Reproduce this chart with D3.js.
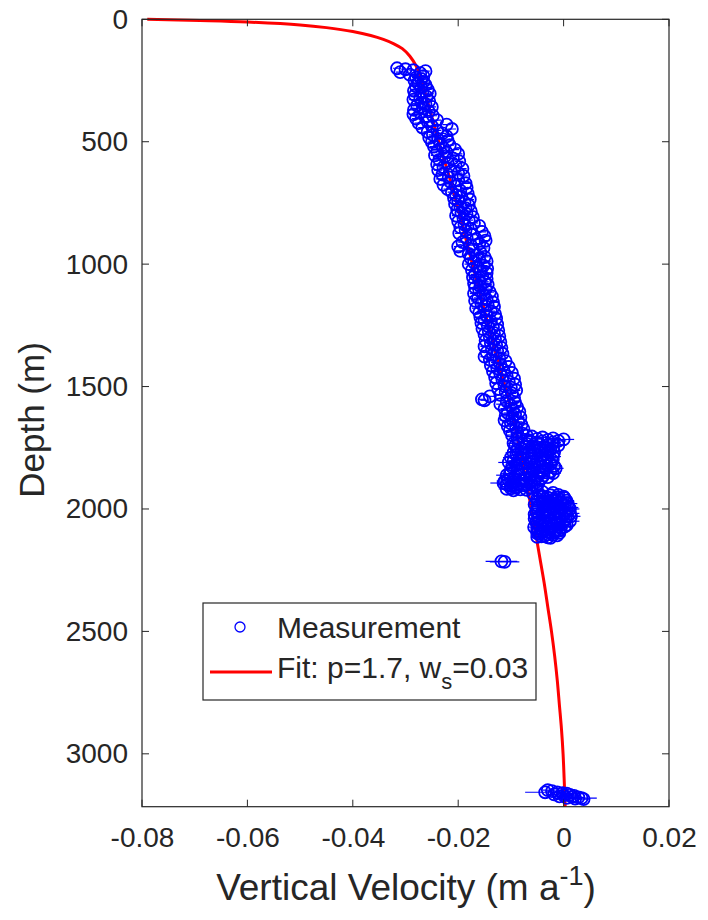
<!DOCTYPE html>
<html><head><meta charset="utf-8">
<script src="https://cdn.jsdelivr.net/npm/d3@7"></script>
<style>
body{margin:0;background:#fff}
text{font-family:"Liberation Sans",Arial,Helvetica,sans-serif;fill:#262626}
</style>
</head><body>
<svg id="chart" width="708" height="920"></svg>
<script>
// ---- axis ticks ----
const xTicks = [-0.08, -0.06, -0.04, -0.02, 0, 0.02];
const xTickLabels = ["-0.08", "-0.06", "-0.04", "-0.02", "0", "0.02"];
const yTicks = [0, 500, 1000, 1500, 2000, 2500, 3000];
const xLabelMain = "Vertical Velocity (m a";
const yLabel = "Depth (m)";
const legendLabels = ["Measurement", "Fit: p=1.7, w", "s", "=0.03"];

// ---- fit curve (depth m, velocity m/a) ----
const fitDepth = [0, 5, 11, 23, 34, 50, 66, 82, 100, 120, 150, 190, 220, 300, 400, 500, 657, 800, 1000, 1200, 1400, 1608, 1800, 2000, 2100, 2200, 2300, 2400, 2500, 2600, 2700, 2800, 2900, 3000, 3100, 3216];
const fitVel   = [-0.0790, -0.0690, -0.0600, -0.0500, -0.0450, -0.0400, -0.0366, -0.0342, -0.0322, -0.0306, -0.0292, -0.0280, -0.0274, -0.0263, -0.0250, -0.0237, -0.0215, -0.0197, -0.0173, -0.0149, -0.0124, -0.0098, -0.0079, -0.0061, -0.0053, -0.0045, -0.0037, -0.0030, -0.0023, -0.0017, -0.0012, -0.0008, -0.0004, -0.0001, 0.0001, 0.0003];

// ---- measurements, upper section [depth, velocity] (small error) ----
const measUpper = [
[200,-0.0316],[204,-0.0300],[208,-0.0285],[212,-0.0262],[216,-0.0310],[220,-0.0272],[226,-0.0292],[232,-0.0266],[238,-0.0280],[244,-0.0270],
[250,-0.0283],[256,-0.0266],[262,-0.0276],[268,-0.0262],[274,-0.0280],[280,-0.0270],[286,-0.0258],[292,-0.0284],[298,-0.0268],[304,-0.0254],
[310,-0.0282],[316,-0.0260],[322,-0.0272],[328,-0.0285],[334,-0.0255],[340,-0.0270],[346,-0.0262],[352,-0.0278],[358,-0.0250],[364,-0.0266],
[370,-0.0284],[376,-0.0256],[382,-0.0272],[388,-0.0285],[394,-0.0248],[400,-0.0262],[406,-0.0280],[412,-0.0240],[418,-0.0258],[424,-0.0275],
[430,-0.0222],[436,-0.0250],[442,-0.0268],[448,-0.0212],[454,-0.0240],[460,-0.0258],[466,-0.0230],[472,-0.0248],[478,-0.0222],[484,-0.0255],
[490,-0.0238],[496,-0.0220],[502,-0.0250],[508,-0.0234],[514,-0.0216],[520,-0.0246],[526,-0.0228],[532,-0.0206],[538,-0.0240],[544,-0.0222],
[550,-0.0200],[556,-0.0244],[562,-0.0226],[568,-0.0210],[574,-0.0236],[580,-0.0198],[586,-0.0220],[592,-0.0240],[598,-0.0205],[604,-0.0228],
[610,-0.0192],[616,-0.0238],[622,-0.0214],[628,-0.0200],[634,-0.0230],[640,-0.0190],[646,-0.0218],[652,-0.0234],[658,-0.0200],[664,-0.0215],
[670,-0.0186],[676,-0.0228],[682,-0.0205],[688,-0.0184],[694,-0.0220],[700,-0.0196],[706,-0.0212],[712,-0.0182],[718,-0.0204],[724,-0.0194],
[730,-0.0208],[736,-0.0178],[742,-0.0200],[748,-0.0188],[754,-0.0206],[760,-0.0180],[766,-0.0196],[772,-0.0186],[778,-0.0202],[784,-0.0176],
[790,-0.0194],[796,-0.0184],[802,-0.0204],[808,-0.0172],[814,-0.0190],[820,-0.0180],[826,-0.0200],[832,-0.0170],[838,-0.0188],[844,-0.0160],
[850,-0.0196],[856,-0.0176],[862,-0.0186],[868,-0.0155],[874,-0.0198],[880,-0.0172],[886,-0.0150],[892,-0.0184],[898,-0.0166],[904,-0.0148],
[910,-0.0192],[916,-0.0160],[922,-0.0176],[928,-0.0200],[934,-0.0152],[940,-0.0172],[946,-0.0196],[952,-0.0158],[958,-0.0180],[964,-0.0165],
[970,-0.0150],[976,-0.0176],[982,-0.0160],[988,-0.0146],[994,-0.0170],[1000,-0.0180],[1006,-0.0152],[1012,-0.0164],[1018,-0.0145],[1024,-0.0174],
[1030,-0.0158],[1036,-0.0146],[1042,-0.0168],[1048,-0.0154],[1054,-0.0172],[1060,-0.0146],[1066,-0.0160],[1072,-0.0150],[1078,-0.0170],[1084,-0.0144],
[1090,-0.0158],[1096,-0.0168],[1102,-0.0148],[1108,-0.0160],[1114,-0.0140],[1120,-0.0170],[1126,-0.0152],[1132,-0.0136],[1138,-0.0162],[1144,-0.0146],
[1150,-0.0168],[1156,-0.0134],[1162,-0.0156],[1168,-0.0144],[1174,-0.0132],[1180,-0.0166],[1186,-0.0150],[1192,-0.0138],[1198,-0.0160],[1204,-0.0130],
[1210,-0.0146],[1216,-0.0158],[1222,-0.0128],[1228,-0.0150],[1234,-0.0138],[1240,-0.0156],[1246,-0.0126],[1252,-0.0144],[1258,-0.0134],[1264,-0.0154],
[1270,-0.0124],[1276,-0.0142],[1282,-0.0132],[1288,-0.0150],[1294,-0.0122],[1300,-0.0140],[1306,-0.0130],[1312,-0.0148],[1318,-0.0120],[1324,-0.0138],
[1330,-0.0128],[1336,-0.0150],[1342,-0.0118],[1348,-0.0136],[1354,-0.0126],[1360,-0.0146],[1366,-0.0116],[1372,-0.0134],[1378,-0.0150],[1384,-0.0122],
[1390,-0.0140],[1396,-0.0110],[1402,-0.0130],[1408,-0.0120],[1414,-0.0138],[1420,-0.0104],[1426,-0.0126],[1432,-0.0114],[1438,-0.0134],[1444,-0.0098],
[1450,-0.0120],[1456,-0.0108],[1462,-0.0130],[1468,-0.0094],[1474,-0.0116],[1480,-0.0104],[1486,-0.0128],[1492,-0.0092],[1498,-0.0112],[1504,-0.0100],
[1510,-0.0124],[1516,-0.0090],[1522,-0.0110],[1528,-0.0098],[1534,-0.0120],[1540,-0.0140],[1546,-0.0094],[1552,-0.0155],[1556,-0.0150],[1560,-0.0108],
[1566,-0.0092],[1572,-0.0120],[1578,-0.0100],[1584,-0.0088],[1590,-0.0112],[1596,-0.0096],[1602,-0.0084],[1608,-0.0106],[1614,-0.0092],[1620,-0.0110],
[1626,-0.0082],[1632,-0.0098],[1638,-0.0112],[1644,-0.0086],[1650,-0.0100],[1656,-0.0080],[1662,-0.0106],[1668,-0.0090],[1674,-0.0076],[1680,-0.0102],
[1686,-0.0088]
];
const errUpper = 0.0008;

// ---- measurements, lower scattered section [depth, velocity, error] ----
const measLower = [
[1692,-0.0078,0.0010],[1698,-0.0098,0.0010],[1704,-0.0060,0.0012],[1708,-0.0040,0.0012],[1712,-0.0020,0.0015],[1716,0.0000,0.0020],[1718,-0.0030,0.0012],[1722,-0.0010,0.0015],
[1726,-0.0086,0.0010],[1730,-0.0050,0.0012],[1734,-0.0070,0.0010],[1738,-0.0030,0.0012],[1742,-0.0092,0.0012],[1746,-0.0060,0.0010],[1750,-0.0020,0.0012],[1754,-0.0080,0.0010],
[1758,-0.0045,0.0012],[1762,-0.0065,0.0010],[1766,-0.0030,0.0012],[1770,-0.0095,0.0015],[1774,-0.0055,0.0010],[1778,-0.0075,0.0010],[1782,-0.0040,0.0012],[1786,-0.0020,0.0015],
[1790,-0.0100,0.0015],[1794,-0.0062,0.0010],[1798,-0.0085,0.0012],[1802,-0.0035,0.0012],[1806,-0.0050,0.0010],[1810,-0.0104,0.0020],[1814,-0.0070,0.0010],[1818,-0.0025,0.0015],
[1822,-0.0090,0.0012],[1826,-0.0045,0.0010],[1830,-0.0060,0.0010],[1834,-0.0015,0.0015],[1838,-0.0080,0.0012],[1842,-0.0100,0.0015],[1846,-0.0040,0.0010],[1850,-0.0065,0.0012],
[1854,-0.0020,0.0015],[1858,-0.0085,0.0010],[1862,-0.0108,0.0020],[1866,-0.0050,0.0012],[1870,-0.0030,0.0012],[1874,-0.0075,0.0010],[1878,-0.0095,0.0012],[1882,-0.0055,0.0010],
[1886,-0.0112,0.0015],[1890,-0.0070,0.0010],[1894,-0.0114,0.0025],[1898,-0.0085,0.0012],[1902,-0.0060,0.0010],[1906,-0.0100,0.0012],[1910,-0.0052,0.0010],[1914,-0.0090,0.0012],
[1918,-0.0108,0.0015],[1922,-0.0070,0.0010],[1926,-0.0050,0.0012],[1930,-0.0040,0.0012],[1934,-0.0020,0.0015],[1938,-0.0058,0.0010],[1942,-0.0010,0.0015],[1946,-0.0045,0.0012],
[1950,0.0000,0.0015],[1954,-0.0030,0.0012],[1958,-0.0050,0.0010],[1962,-0.0015,0.0012],[1966,0.0005,0.0015],[1970,-0.0040,0.0012],[1974,-0.0025,0.0012],[1978,0.0008,0.0018],
[1982,-0.0055,0.0010],[1986,-0.0010,0.0012],[1990,-0.0035,0.0012],[1994,0.0010,0.0018],[1998,-0.0050,0.0010],[2002,-0.0020,0.0012],[2006,0.0005,0.0015],[2010,-0.0040,0.0012],
[2014,-0.0008,0.0012],[2018,0.0012,0.0018],[2022,-0.0055,0.0010],[2026,-0.0030,0.0012],[2030,0.0014,0.0018],[2034,-0.0015,0.0012],[2038,-0.0048,0.0010],[2042,0.0004,0.0015],
[2046,-0.0025,0.0012],[2050,0.0012,0.0018],[2054,-0.0052,0.0010],[2058,-0.0010,0.0012],[2062,-0.0035,0.0012],[2066,0.0006,0.0015],[2070,-0.0020,0.0012],[2074,-0.0056,0.0010],
[2078,-0.0005,0.0012],[2082,-0.0040,0.0012],[2086,-0.0015,0.0012],[2090,-0.0050,0.0010],[2094,-0.0028,0.0012],[2098,-0.0008,0.0012],[2102,-0.0045,0.0010],[2106,-0.0020,0.0012],
[2110,-0.0036,0.0010],[2114,-0.0050,0.0010],[2118,-0.0025,0.0012],
[1700,-0.0070,0.0010],[1710,-0.0088,0.0010],[1714,-0.0050,0.0012],[1720,-0.0065,0.0010],[1724,-0.0040,0.0012],[1728,-0.0020,0.0015],[1732,-0.0095,0.0012],[1736,-0.0045,0.0010],
[1740,-0.0010,0.0015],[1744,-0.0075,0.0010],[1748,-0.0035,0.0012],[1752,-0.0055,0.0010],[1756,-0.0025,0.0012],[1760,-0.0088,0.0010],[1764,-0.0048,0.0010],[1768,-0.0018,0.0012],
[1772,-0.0070,0.0010],[1776,-0.0035,0.0012],[1780,-0.0090,0.0012],[1784,-0.0060,0.0010],[1788,-0.0030,0.0012],[1792,-0.0080,0.0010],[1796,-0.0045,0.0012],[1800,-0.0022,0.0015],
[1804,-0.0095,0.0012],[1808,-0.0060,0.0010],[1812,-0.0038,0.0012],[1816,-0.0085,0.0010],[1820,-0.0055,0.0012],[1824,-0.0018,0.0015],[1828,-0.0098,0.0015],[1832,-0.0072,0.0010],
[1836,-0.0035,0.0012],[1840,-0.0055,0.0010],[1844,-0.0088,0.0012],[1848,-0.0025,0.0015],[1852,-0.0045,0.0010],[1856,-0.0102,0.0018],[1860,-0.0060,0.0010],[1864,-0.0038,0.0012],
[1868,-0.0092,0.0012],[1872,-0.0062,0.0010],[1876,-0.0042,0.0012],[1880,-0.0105,0.0015],[1884,-0.0080,0.0010],[1888,-0.0062,0.0010],[1892,-0.0095,0.0012],[1896,-0.0048,0.0010],
[1900,-0.0108,0.0018],[1904,-0.0075,0.0010],[1908,-0.0090,0.0012],[1912,-0.0065,0.0010],[1916,-0.0100,0.0012],[1920,-0.0082,0.0010],[1924,-0.0095,0.0012],
[1944,-0.0025,0.0012],[1948,-0.0040,0.0010],[1952,-0.0012,0.0015],[1956,0.0002,0.0015],[1960,-0.0035,0.0012],[1964,-0.0022,0.0012],[1968,-0.0050,0.0010],[1972,-0.0005,0.0015],
[1976,-0.0038,0.0012],[1980,-0.0018,0.0012],[1984,0.0002,0.0018],[1988,-0.0048,0.0010],[1992,-0.0025,0.0012],[1996,-0.0005,0.0015],[2000,0.0012,0.0018],[2004,-0.0035,0.0012],
[2008,-0.0012,0.0012],[2012,-0.0052,0.0010],[2016,-0.0025,0.0012],[2020,0.0002,0.0015],[2024,-0.0040,0.0012],[2028,-0.0008,0.0012],[2032,0.0008,0.0018],[2036,-0.0030,0.0012],
[2040,-0.0055,0.0010],[2044,-0.0012,0.0012],[2048,-0.0040,0.0012],[2052,0.0000,0.0015],[2056,-0.0028,0.0012],[2060,-0.0050,0.0010],[2064,-0.0012,0.0012],[2068,-0.0040,0.0012],
[2072,0.0002,0.0015],[2076,-0.0030,0.0012],[2080,-0.0050,0.0010],[2084,-0.0025,0.0012],[2088,-0.0008,0.0012],[2092,-0.0040,0.0010],[2096,-0.0018,0.0012],[2100,-0.0050,0.0010],
[2104,-0.0030,0.0012],[2108,-0.0012,0.0012],[2112,-0.0042,0.0010],[2116,-0.0030,0.0010],
[2214,-0.0118,0.0030],[2216,-0.0112,0.0028]
];

// ---- measurements near the bed [depth, velocity, error] ----
const measBed = [
[3148,-0.0030,0.0010],[3152,-0.0022,0.0012],[3157,-0.0035,0.0038],[3158,-0.0012,0.0012],[3161,-0.0002,0.0010],[3163,0.0006,0.0012],[3166,-0.0018,0.0010],
[3168,0.0012,0.0012],[3170,0.0000,0.0010],[3172,0.0020,0.0012],[3174,-0.0008,0.0010],[3176,0.0016,0.0012],[3178,0.0028,0.0012],[3180,0.0006,0.0010],
[3181,0.0034,0.0029],[3183,0.0022,0.0012],[3185,0.0038,0.0012]
];

// ---- drawing ----
const svg = d3.select("#chart");
const L = 142, R = 669, T = 19.3, B = 806.7;
const x = d3.scaleLinear().domain([-0.08, 0.02]).range([L, R]);
const y = d3.scaleLinear().domain([0, 3216]).range([T, B]);
const axisColor = "#262626";
const tickFont = 28;

const fitData = fitDepth.map((d, i) => [d, fitVel[i]]);
const plot = svg.append("g");
plot.append("defs").append("clipPath").attr("id","clip")
  .append("rect").attr("x", L).attr("y", T - 3).attr("width", R - L).attr("height", B - T + 3);

// red fit line (under the markers)
const line = d3.line().x(d => x(d[1])).y(d => y(d[0])).curve(d3.curveCatmullRom.alpha(0.5));
plot.append("path").datum(fitData)
  .attr("d", line).attr("fill","none").attr("stroke","#ff0000").attr("stroke-width",3);

const allMeas = measUpper.map(d => [d[0], d[1], errUpper]).concat(measLower, measBed);
const mg = plot.append("g").attr("clip-path","url(#clip)");
mg.selectAll("line.err").data(allMeas).join("line").attr("class","err")
  .attr("x1", d => x(d[1] - d[2])).attr("x2", d => x(d[1] + d[2]))
  .attr("y1", d => y(d[0])).attr("y2", d => y(d[0]))
  .attr("stroke","#0000ff").attr("stroke-width",1.2);
mg.selectAll("circle").data(allMeas).join("circle")
  .attr("cx", d => x(d[1])).attr("cy", d => y(d[0])).attr("r", 6)
  .attr("fill","none").attr("stroke","#0000ff").attr("stroke-width",1.8);

// axes box
const ax = svg.append("g");
ax.append("rect").attr("x", L).attr("y", T).attr("width", R - L).attr("height", B - T)
  .attr("fill","none").attr("stroke", axisColor).attr("stroke-width", 1.2);

const tickLen = 7;
const xAxis = d3.axisBottom(x).tickValues(xTicks).tickSize(0).tickPadding(14)
  .tickFormat((d, i) => xTickLabels[i]);
const gx = ax.append("g").attr("transform", `translate(0,${B})`).call(xAxis);
gx.select(".domain").remove();
gx.selectAll("text").attr("font-size", tickFont).attr("fill", axisColor)
  .attr("font-family",'"Liberation Sans",Arial,sans-serif').attr("dy","0.95em");
xTicks.forEach(t => {
  ax.append("line").attr("x1", x(t)).attr("x2", x(t)).attr("y1", B).attr("y2", B - tickLen).attr("stroke", axisColor);
  ax.append("line").attr("x1", x(t)).attr("x2", x(t)).attr("y1", T).attr("y2", T + tickLen).attr("stroke", axisColor);
});

const yAxis = d3.axisLeft(y).tickValues(yTicks).tickSize(0).tickPadding(14).tickFormat(d3.format("d"));
const gy = ax.append("g").attr("transform", `translate(${L},0)`).call(yAxis);
gy.select(".domain").remove();
gy.selectAll("text").attr("font-size", tickFont).attr("fill", axisColor)
  .attr("font-family",'"Liberation Sans",Arial,sans-serif');
yTicks.forEach(t => {
  ax.append("line").attr("x1", L).attr("x2", L + tickLen).attr("y1", y(t)).attr("y2", y(t)).attr("stroke", axisColor);
  ax.append("line").attr("x1", R).attr("x2", R - tickLen).attr("y1", y(t)).attr("y2", y(t)).attr("stroke", axisColor);
});

// axis labels
const xl = svg.append("text").attr("x", 406).attr("y", 900)
  .attr("text-anchor","middle").attr("font-size", 37);
xl.append("tspan").text(xLabelMain);
xl.append("tspan").attr("dy", -15).attr("font-size", 27).text("-1");
xl.append("tspan").attr("dy", 15).text(")");

svg.append("text").attr("transform", `translate(44,${(T + B) / 2 + 7}) rotate(-90)`)
  .attr("text-anchor","middle").attr("font-size", 35).text(yLabel);

// legend
const lg = svg.append("g");
lg.append("rect").attr("x", 203).attr("y", 603).attr("width", 333).attr("height", 97)
  .attr("fill","#fff").attr("stroke", axisColor).attr("stroke-width", 1.2);
lg.append("circle").attr("cx", 240).attr("cy", 627).attr("r", 5).attr("fill","none")
  .attr("stroke","#0000ff").attr("stroke-width", 1.3);
lg.append("text").attr("x", 277).attr("y", 638).attr("font-size", 30).text(legendLabels[0]);
lg.append("line").attr("x1", 210).attr("x2", 272).attr("y1", 672).attr("y2", 672)
  .attr("stroke","#ff0000").attr("stroke-width", 3);
const lt = lg.append("text").attr("x", 277).attr("y", 678).attr("font-size", 30);
lt.append("tspan").text(legendLabels[1]);
lt.append("tspan").attr("dy", 11).attr("font-size", 22).text(legendLabels[2]);
lt.append("tspan").attr("dy", -11).text(legendLabels[3]);
</script>
</body></html>
